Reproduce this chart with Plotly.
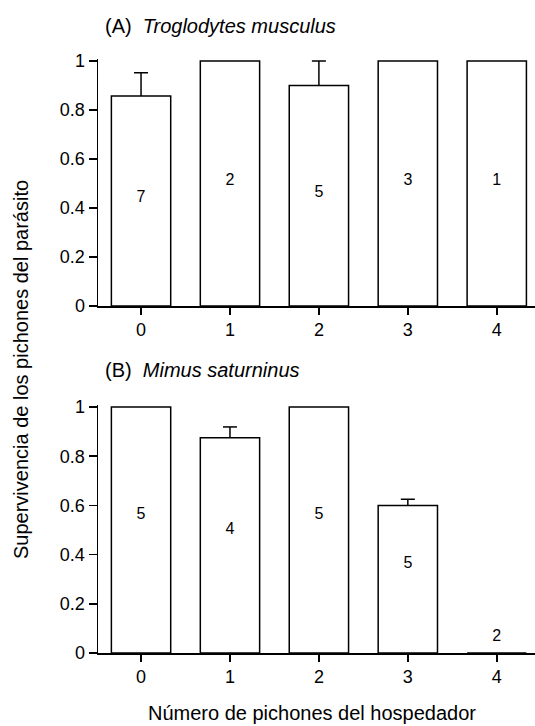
import plotly.graph_objects as go

categories = [0, 1, 2, 3, 4]
tick_labels = ["0", "1", "2", "3", "4"]

# Panel A: Troglodytes musculus
surv_A = [0.857, 1.0, 0.9, 1.0, 1.0]
err_A = [0.095, 0.0, 0.1, 0.0, 0.0]
n_A = ["7", "2", "5", "3", "1"]
label_y_A = [0.44, 0.51, 0.46, 0.51, 0.51]

# Panel B: Mimus saturninus
surv_B = [1.0, 0.875, 1.0, 0.6, 0.0]
err_B = [0.0, 0.044, 0.0, 0.025, 0.0]
n_B = ["5", "4", "5", "5", "2"]
label_y_B = [0.56, 0.50, 0.56, 0.36, 0.065]

y_ticks = [0, 0.2, 0.4, 0.6, 0.8, 1.0]
y_ticktext = ["0", "0.2", "0.4", "0.6", "0.8", "1"]

W, H = 535, 726
FONT = "Liberation Sans, Arial, Helvetica, sans-serif"
YMAX = 1.008

fig = go.Figure()

def add_panel(vals, errs, labels, label_y, xa, ya):
    fig.add_trace(go.Bar(
        x=categories, y=vals, width=0.667,
        marker=dict(color="white", line=dict(color="black", width=1.5)),
        xaxis=xa, yaxis=ya, showlegend=False, hoverinfo="skip"))
    # upper-only error bars: stem + cap
    ex, ey, cx, cy = [], [], [], []
    for c, v, e in zip(categories, vals, errs):
        if e and e > 0:
            ex += [c, c, None]
            ey += [v, v + e, None]
            cx.append(c)
            cy.append(v + e)
    fig.add_trace(go.Scatter(
        x=ex, y=ey, mode="lines", line=dict(color="black", width=1.5),
        cliponaxis=False, xaxis=xa, yaxis=ya, showlegend=False, hoverinfo="skip"))
    fig.add_trace(go.Scatter(
        x=cx, y=cy, mode="markers",
        marker=dict(symbol="line-ew-open", size=10, color="black",
                    line=dict(color="black", width=1.5)),
        cliponaxis=False, xaxis=xa, yaxis=ya, showlegend=False, hoverinfo="skip"))
    fig.add_trace(go.Scatter(
        x=categories, y=label_y, text=labels, mode="text",
        textfont=dict(family=FONT, size=16, color="black"),
        xaxis=xa, yaxis=ya, showlegend=False, hoverinfo="skip"))

add_panel(surv_A, err_A, n_A, label_y_A, "x", "y")
add_panel(surv_B, err_B, n_B, label_y_B, "x2", "y2")

def px_x(p):
    return p / W

def px_y(p):
    return 1 - p / H

PX_PER_UNIT = 245.0
ext = (YMAX - 1.0) * PX_PER_UNIT

xdom = [px_x(98), 1.0]
ax_common = dict(showline=True, linecolor="black", linewidth=1.5,
                 ticks="outside", ticklen=7, tickwidth=1.5, tickcolor="black",
                 showgrid=False, zeroline=False, automargin=False,
                 tickfont=dict(family=FONT, size=18, color="black"))

xa = dict(ax_common, domain=xdom, range=[-0.484, 4.43],
          tickvals=categories, ticktext=tick_labels)
ya = dict(ax_common, range=[0, YMAX], tickvals=y_ticks, ticktext=y_ticktext,
          ticklen=8)

fig.update_layout(
    width=W, height=H,
    margin=dict(l=0, r=0, t=0, b=0, pad=0, autoexpand=False),
    paper_bgcolor="white", plot_bgcolor="white",
    bargap=0,
    xaxis=dict(xa, anchor="y"),
    yaxis=dict(ya, domain=[px_y(306), px_y(61 - ext)], anchor="x"),
    xaxis2=dict(xa, anchor="y2"),
    yaxis2=dict(ya, domain=[px_y(653), px_y(407 - ext)], anchor="x2"),
    font=dict(family=FONT, color="black"),
)

annots = [
    dict(text="(A)&nbsp;&nbsp;<i>Troglodytes musculus</i>", x=px_x(103), y=px_y(26),
         xanchor="left", yanchor="middle", size=20),
    dict(text="(B)&nbsp;&nbsp;<i>Mimus saturninus</i>", x=px_x(103), y=px_y(370),
         xanchor="left", yanchor="middle", size=20),
    dict(text="Número de pichones del hospedador", x=px_x(312), y=px_y(713),
         xanchor="center", yanchor="middle", size=20),
]
for a in annots:
    fig.add_annotation(text=a["text"], x=a["x"], y=a["y"], xref="paper", yref="paper",
                       xanchor=a["xanchor"], yanchor=a["yanchor"], showarrow=False,
                       font=dict(family=FONT, size=a["size"], color="black"))

fig.add_annotation(text="Supervivencia de los pichones del parásito",
                   x=px_x(21), y=px_y(370), xref="paper", yref="paper",
                   xanchor="center", yanchor="middle", textangle=-90, showarrow=False,
                   font=dict(family=FONT, size=20, color="black"))

fig.write_html("out.html",
               config={"displayModeBar": False, "staticPlot": True},
               post_script="document.body.style.margin='0';document.body.style.overflow='hidden';")
